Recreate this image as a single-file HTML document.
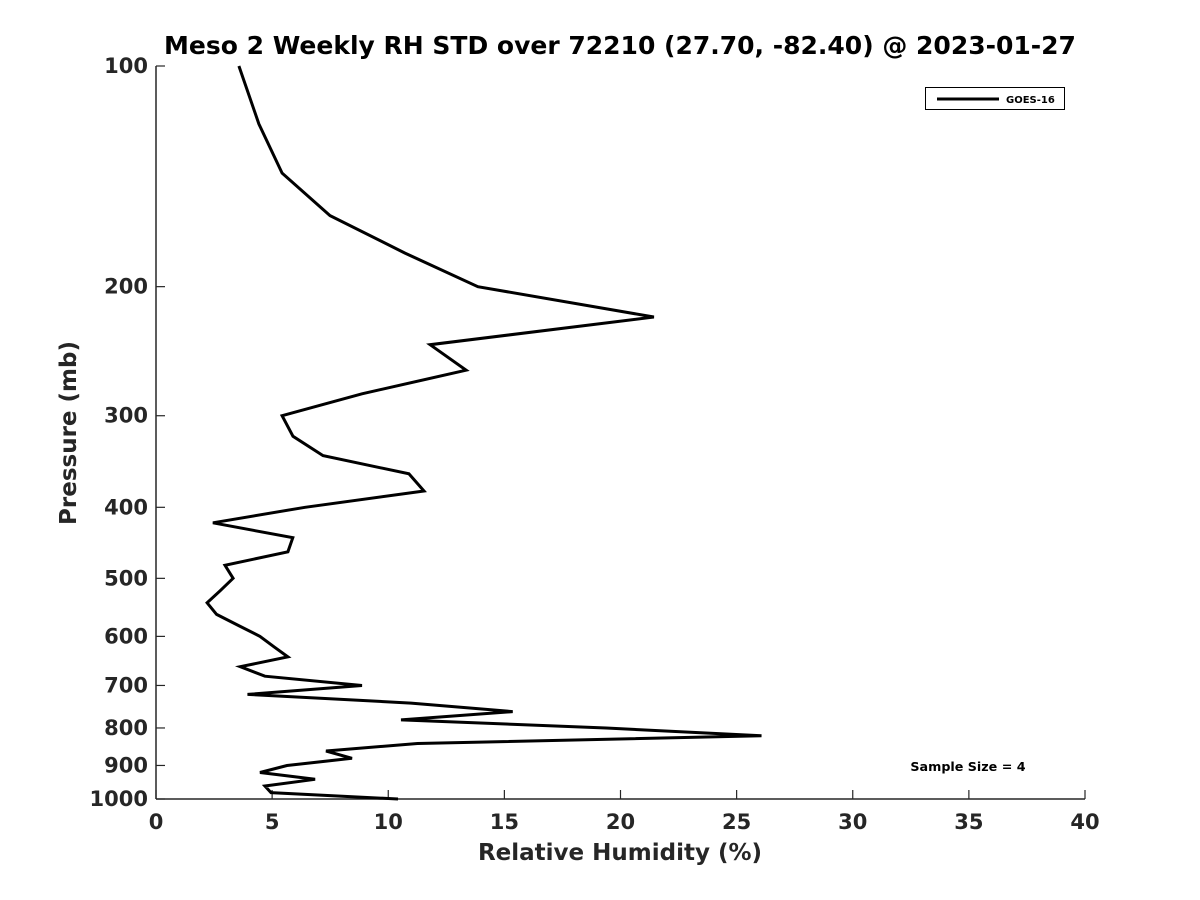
<!DOCTYPE html>
<html><head><meta charset="utf-8"><style>
body{margin:0;background:#fff}
svg{display:block;font-family:"DejaVu Sans","Liberation Sans",sans-serif}
</style></head><body>
<svg id="chart" width="1200" height="900">
<text x="620" y="54" text-anchor="middle" font-size="25" font-weight="bold">Meso 2 Weekly RH STD over 72210 (27.70, -82.40) @ 2023-01-27</text>
<g id="axes"></g>
<g id="series"></g>
<g>
<rect x="925.5" y="87.5" width="139" height="22" fill="#fff" stroke="#000" stroke-width="1"/>
<line x1="937" y1="99" x2="999" y2="99" stroke="#000" stroke-width="3"/>
<text x="1006" y="103" font-size="10" font-weight="bold">GOES-16</text>
</g>
<text x="968" y="771" text-anchor="middle" font-size="12.7" font-weight="bold">Sample Size = 4</text>
<text x="620" y="860" text-anchor="middle" font-size="23" font-weight="bold" fill="#262626">Relative Humidity (%)</text>
<text transform="translate(76,433) rotate(-90)" text-anchor="middle" font-size="23" font-weight="bold" fill="#262626">Pressure (mb)</text>
</svg>
<script>
const pressures=[100,120,140,160,180,200,220,240,260,280,300,320,340,360,380,400,420,440,460,480,500,520,540,560,580,600,620,640,660,680,700,720,740,760,780,800,820,840,860,880,900,920,940,960,980,1000];
const rhValues=[3.57,4.43,5.43,7.49,10.72,13.86,21.44,11.80,13.35,8.87,5.43,5.90,7.19,10.89,11.54,6.42,2.45,5.89,5.68,2.97,3.32,2.76,2.20,2.61,3.56,4.48,5.08,5.68,3.63,4.69,8.87,3.94,10.98,15.36,10.55,19.38,26.07,11.26,7.32,8.44,5.64,4.48,6.85,4.69,4.95,10.42];
const xTicks=[0,5,10,15,20,25,30,35,40];
const yTicks=[100,200,300,400,500,600,700,800,900,1000];
const L=156,R=1085,T=66,B=799;
const xs=v=>L+(v-0)/(40-0)*(R-L);
const ys=p=>T+(Math.log10(p)-2)*(B-T);
const NS='http://www.w3.org/2000/svg';
const ax=document.getElementById('axes');
function mk(tag,attrs,parent){const e=document.createElementNS(NS,tag);for(const k in attrs)e.setAttribute(k,attrs[k]);parent.appendChild(e);return e;}
let e=mk('line',{x1:L,y1:B,x2:R,y2:B,stroke:'#262626','stroke-width':1.5},ax);


e=mk('line',{x1:L,y1:T,x2:L,y2:B,stroke:'#262626','stroke-width':1.5},ax);


xTicks.forEach(v=>{
 const t=mk('line',{x1:xs(v),y1:B,x2:xs(v),y2:B-9,stroke:'#262626','stroke-width':1.2},ax);
 
 
 const l=mk('text',{x:xs(v),y:B+30,'text-anchor':'middle','font-size':21,'font-weight':'bold',fill:'#262626'},ax);
 l.textContent=v;
 
 
});
yTicks.forEach(v=>{
 const t=mk('line',{x1:L,y1:ys(v),x2:L+9,y2:ys(v),stroke:'#262626','stroke-width':1.2},ax);
 
 
 const l=mk('text',{x:L-8,y:ys(v)+7,'text-anchor':'end','font-size':21,'font-weight':'bold',fill:'#262626'},ax);
 l.textContent=v;
 
 
});
const pts=pressures.map((p,i)=>xs(rhValues[i]).toFixed(1)+','+ys(p).toFixed(1)).join(' ');
const pl=mk('polyline',{points:pts,fill:'none',stroke:'#000','stroke-width':3,'stroke-linejoin':'miter'},document.getElementById('series'));


</script>
</body></html>
